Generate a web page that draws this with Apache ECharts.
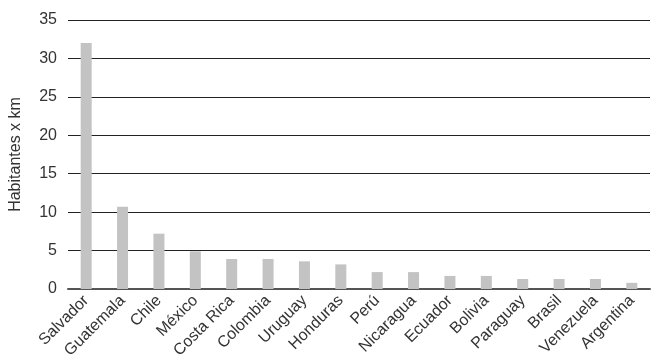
<!DOCTYPE html>
<html><head><meta charset="utf-8">
<script src="https://cdn.jsdelivr.net/npm/echarts@6/dist/echarts.min.js"></script>
<style>html,body{margin:0;padding:0;background:#fff}#c{width:656px;height:364px}</style>
</head><body><div id="c"></div>
<script>
const categories = ["Salvador","Guatemala","Chile","México","Costa Rica","Colombia","Uruguay","Honduras","Perú","Nicaragua","Ecuador","Bolivia","Paraguay","Brasil","Venezuela","Argentina"];
const values = [32.0,10.7,7.2,4.9,3.9,3.9,3.6,3.2,2.2,2.2,1.7,1.7,1.3,1.3,1.3,0.8];
const yTitle = "Habitantes x km";
const font = "Liberation Sans, Arial, sans-serif";
const chart = echarts.init(document.getElementById('c'));
chart.setOption({
  animation:false,
  grid:{left:66,right:6,top:20,bottom:75,containLabel:false},
  xAxis:{type:'category',data:categories,
    axisLine:{lineStyle:{color:'#555',width:2}},
    axisTick:{show:false},
    axisLabel:{rotate:45,interval:0,color:'#333',fontSize:16,fontFamily:font,margin:9}},
  yAxis:{type:'value',min:0,max:35,interval:5,
    name:yTitle,nameLocation:'middle',nameGap:44,nameRotate:90,
    nameTextStyle:{color:'#333',fontSize:16,fontFamily:font},
    axisLine:{show:false},axisTick:{show:false},
    splitLine:{lineStyle:{color:'#222',width:1}},
    axisLabel:{color:'#333',fontSize:16,fontFamily:font,margin:11}},
  series:[{type:'bar',data:values,barWidth:11,itemStyle:{color:'#c3c3c3'},z:3}]
});
</script></body></html>
